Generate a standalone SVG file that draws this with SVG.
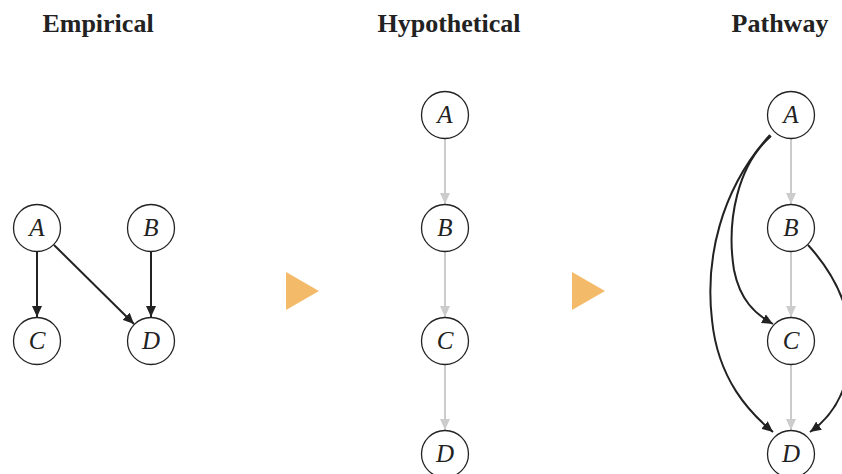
<svg xmlns="http://www.w3.org/2000/svg" width="842" height="474" viewBox="0 0 842 474">
<style>
.title{font-family:"Liberation Serif","Times New Roman",serif;font-weight:bold;font-size:26px;fill:#222;text-anchor:middle}
.node circle{fill:#fff;stroke:#222;stroke-width:1.3}
.node text{font-family:"Liberation Serif","Times New Roman",serif;font-style:italic;font-size:25px;fill:#222;text-anchor:middle}
.dark{fill:none;stroke:#222;stroke-width:2}
.light{fill:none;stroke:#cccccc;stroke-width:2}
.play{fill:#f3bb69}
</style>
<defs>
<marker id="ad" markerUnits="userSpaceOnUse" markerWidth="12" markerHeight="10" refX="11" refY="5" orient="auto"><path d="M0,0 L11,5 L0,10 z" fill="#222"/></marker>
<marker id="al" markerUnits="userSpaceOnUse" markerWidth="12" markerHeight="10" refX="11" refY="5" orient="auto"><path d="M0,0 L11,5 L0,10 z" fill="#cccccc"/></marker>
</defs>
<text class="title" x="98" y="32">Empirical</text>
<text class="title" x="449" y="32">Hypothetical</text>
<text class="title" x="780" y="32">Pathway</text>
<polygon class="play" points="286,272 319,291 286,310"/>
<polygon class="play" points="572,272 605,291 572,310"/>
<g id="connectors">
<line class="dark" x1="37" y1="252" x2="37" y2="317" marker-end="url(#ad)"/>
<line class="dark" x1="151" y1="252" x2="151" y2="317" marker-end="url(#ad)"/>
<line class="dark" x1="54" y1="245" x2="134" y2="324" marker-end="url(#ad)"/>
<line class="light" x1="445" y1="139" x2="445" y2="204" marker-end="url(#al)"/>
<line class="light" x1="445" y1="252" x2="445" y2="317" marker-end="url(#al)"/>
<line class="light" x1="445" y1="365" x2="445" y2="430" marker-end="url(#al)"/>
<line class="light" x1="791" y1="139" x2="791" y2="204" marker-end="url(#al)"/>
<line class="light" x1="791" y1="252" x2="791" y2="317" marker-end="url(#al)"/>
<line class="light" x1="791" y1="365" x2="791" y2="430" marker-end="url(#al)"/>
<path class="dark" d="M771,136 C738,165 726,220 734,270 C740,300 755,314 773,324" marker-end="url(#ad)"/>
<path class="dark" d="M770,135 C720,190 705,260 712,320 C718,380 750,413 773,432" marker-end="url(#ad)"/>
<path class="dark" d="M808,245 C840,280 855,320 850,360 C846,395 830,418 810,432" marker-end="url(#ad)"/>
</g>
<g id="emp-A" class="node"><circle cx="37" cy="228" r="23.5"/><text x="37" y="236">A</text></g>
<g id="emp-B" class="node"><circle cx="151" cy="228" r="23.5"/><text x="151" y="236">B</text></g>
<g id="emp-C" class="node"><circle cx="37" cy="341" r="23.5"/><text x="37" y="349">C</text></g>
<g id="emp-D" class="node"><circle cx="151" cy="341" r="23.5"/><text x="151" y="349">D</text></g>
<g id="hyp-A" class="node"><circle cx="445" cy="115" r="23.5"/><text x="445" y="123">A</text></g>
<g id="hyp-B" class="node"><circle cx="445" cy="228" r="23.5"/><text x="445" y="236">B</text></g>
<g id="hyp-C" class="node"><circle cx="445" cy="341" r="23.5"/><text x="445" y="349">C</text></g>
<g id="hyp-D" class="node"><circle cx="445" cy="454" r="23.5"/><text x="445" y="462">D</text></g>
<g id="path-A" class="node"><circle cx="791" cy="115" r="23.5"/><text x="791" y="123">A</text></g>
<g id="path-B" class="node"><circle cx="791" cy="228" r="23.5"/><text x="791" y="236">B</text></g>
<g id="path-C" class="node"><circle cx="791" cy="341" r="23.5"/><text x="791" y="349">C</text></g>
<g id="path-D" class="node"><circle cx="791" cy="454" r="23.5"/><text x="791" y="462">D</text></g>
</svg>
